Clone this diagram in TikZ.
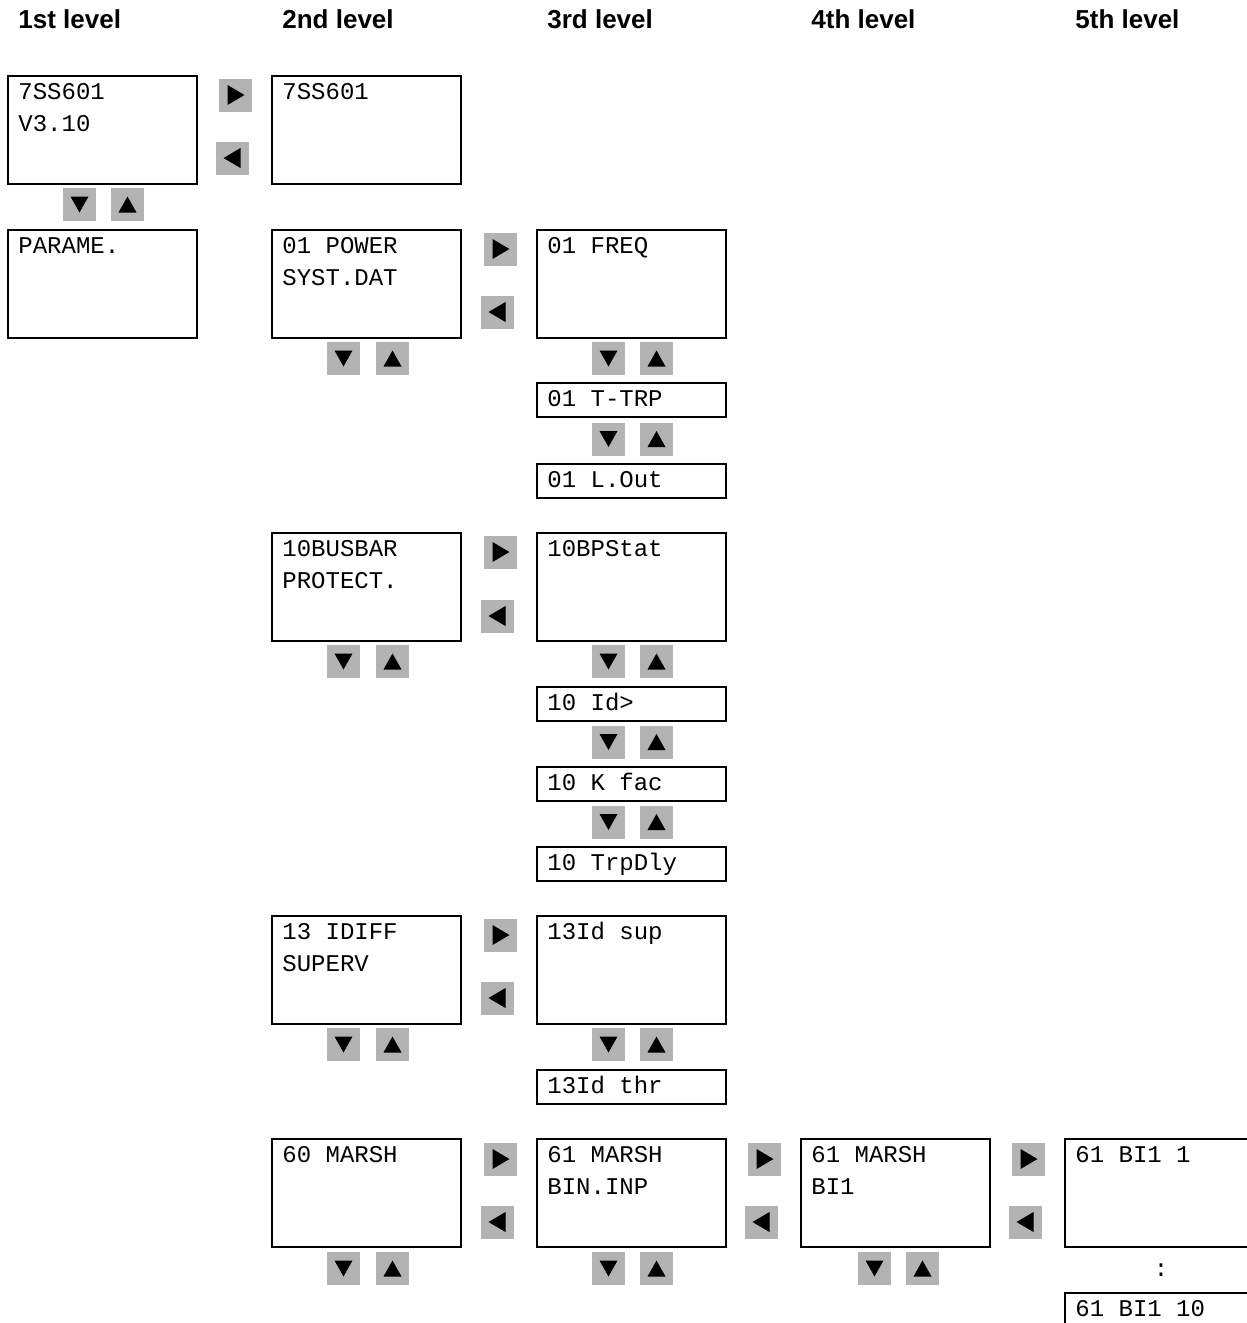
\documentclass[tikz,border=0pt]{standalone}
\usepackage{fontspec}
\setmainfont{Liberation Sans}
\newfontfamily\monof{Liberation Mono}
\definecolor{btngray}{RGB}{179,179,179}
\tikzset{
  bigbox/.style={draw, line width=1pt, minimum width=94.5pt, minimum height=54pt, inner sep=0pt, anchor=north west},
  smallbox/.style={draw, line width=1pt, minimum width=94.5pt, minimum height=17pt, inner sep=0pt, anchor=north west},
  txt/.style={inner sep=0pt, anchor=base west, font=\monof\fontsize{12pt}{14pt}\selectfont},
  head/.style={inner sep=0pt, anchor=base west, font=\bfseries\fontsize{13pt}{15pt}\selectfont},
  btn/.style={fill=btngray, minimum size=16.5pt, inner sep=0pt},
  btnR/.style={btn, path picture={\fill[black] ([shift={(-8,-10)}]path picture bounding box.center) -- ++(0,20) -- ++(17,-10) -- cycle;}},
  btnL/.style={btn, path picture={\fill[black] ([shift={(8,-10)}]path picture bounding box.center) -- ++(0,20) -- ++(-17,-10) -- cycle;}},
  btnD/.style={btn, path picture={\fill[black] ([shift={(-9,-8)}]path picture bounding box.center) -- ++(18,0) -- ++(-9,16) -- cycle;}},
  btnU/.style={btn, path picture={\fill[black] ([shift={(-9,8)}]path picture bounding box.center) -- ++(18,0) -- ++(-9,-16) -- cycle;}},
}
\begin{document}
\begin{tikzpicture}[x=0.5pt, y=-0.5pt]
\useasboundingbox (0,0) rectangle (1247,1323);
\clip (0,0) rectangle (1247,1323);
% headers
\node[head] (h1) at (18,28) {1st level};
\node[head] (h2) at (282,28) {2nd level};
\node[head] (h3) at (547,28) {3rd level};
\node[head] (h4) at (811,28) {4th level};
\node[head] (h5) at (1075,28) {5th level};
% row A
\node[bigbox] (b11) at (7,75) {};
\node[txt] (t11a) at (18,99) {7SS601};
\node[txt] (t11b) at (18,131) {V3.10};
\node[bigbox] (b12) at (271,75) {};
\node[txt] (t12a) at (282,99) {7SS601};
\node[btnR] (rA) at (235.5,95) {};
\node[btnL] (lA) at (232.5,158) {};
\node[btnD] (dA) at (79.5,204.5) {};
\node[btnU] (uA) at (127.5,204.5) {};
% row B
\node[bigbox] (b21) at (7,229) {};
\node[txt] (t21a) at (18,253) {PARAME.};
\node[bigbox] (b22) at (271,229) {};
\node[txt] (t22a) at (282,253) {01 POWER};
\node[txt] (t22b) at (282,285) {SYST.DAT};
\node[bigbox] (b23) at (536,229) {};
\node[txt] (t23a) at (547,253) {01 FREQ};
\node[btnR] (rB) at (500.5,249) {};
\node[btnL] (lB) at (497.5,312) {};
\node[btnD] (dB2) at (343.5,358.5) {};
\node[btnU] (uB2) at (392.5,358.5) {};
\node[btnD] (dB3) at (608.5,358.5) {};
\node[btnU] (uB3) at (656.5,358.5) {};
\node[smallbox] (s1) at (536,382) {};
\node[txt] (ts1) at (547,406.5) {01 T-TRP};
\node[btnD] (dB4) at (608.5,439) {};
\node[btnU] (uB4) at (656.5,439) {};
\node[smallbox] (s2) at (536,463) {};
\node[txt] (ts2) at (547,487) {01 L.Out};
% row C
\node[bigbox] (b32) at (271,532) {};
\node[txt] (t32a) at (282,556) {10BUSBAR};
\node[txt] (t32b) at (282,588) {PROTECT.};
\node[bigbox] (b33) at (536,532) {};
\node[txt] (t33a) at (547,556) {10BPStat};
\node[btnR] (rC) at (500.5,552) {};
\node[btnL] (lC) at (497.5,616) {};
\node[btnD] (dC2) at (343.5,661.5) {};
\node[btnU] (uC2) at (392.5,661.5) {};
\node[btnD] (dC3) at (608.5,661.5) {};
\node[btnU] (uC3) at (656.5,661.5) {};
\node[smallbox] (s3) at (536,686) {};
\node[txt] (ts3) at (547,710.5) {10 Id>};
\node[btnD] (dC4) at (608.5,742) {};
\node[btnU] (uC4) at (656.5,742) {};
\node[smallbox] (s4) at (536,766) {};
\node[txt] (ts4) at (547,790.5) {10 K fac};
\node[btnD] (dC5) at (608.5,822) {};
\node[btnU] (uC5) at (656.5,822) {};
\node[smallbox] (s5) at (536,846) {};
\node[txt] (ts5) at (547,870.5) {10 TrpDly};
% row D
\node[bigbox] (b42) at (271,915) {};
\node[txt] (t42a) at (282,939) {13 IDIFF};
\node[txt] (t42b) at (282,971) {SUPERV};
\node[bigbox] (b43) at (536,915) {};
\node[txt] (t43a) at (547,939) {13Id sup};
\node[btnR] (rD) at (500.5,935) {};
\node[btnL] (lD) at (497.5,998) {};
\node[btnD] (dD2) at (343.5,1044.5) {};
\node[btnU] (uD2) at (392.5,1044.5) {};
\node[btnD] (dD3) at (608.5,1044.5) {};
\node[btnU] (uD3) at (656.5,1044.5) {};
\node[smallbox] (s6) at (536,1069) {};
\node[txt] (ts6) at (547,1093.5) {13Id thr};
% row E
\node[bigbox] (b52) at (271,1138) {};
\node[txt] (t52a) at (282,1162) {60 MARSH};
\node[bigbox] (b53) at (536,1138) {};
\node[txt] (t53a) at (547,1162) {61 MARSH};
\node[txt] (t53b) at (547,1194) {BIN.INP};
\node[bigbox] (b54) at (800,1138) {};
\node[txt] (t54a) at (811,1162) {61 MARSH};
\node[txt] (t54b) at (811,1194) {BI1};
\node[bigbox] (b55) at (1064,1138) {};
\node[txt] (t55a) at (1075,1162) {61 BI1 1};
\node[btnR] (rE2) at (500.5,1159) {};
\node[btnL] (lE2) at (497.5,1222) {};
\node[btnR] (rE3) at (764.5,1159) {};
\node[btnL] (lE3) at (761.5,1222) {};
\node[btnR] (rE4) at (1028.5,1159) {};
\node[btnL] (lE4) at (1025.5,1222) {};
\node[btnD] (dE2) at (343.5,1268.5) {};
\node[btnU] (uE2) at (392.5,1268.5) {};
\node[btnD] (dE3) at (608.5,1268.5) {};
\node[btnU] (uE3) at (656.5,1268.5) {};
\node[btnD] (dE4) at (874.5,1268.5) {};
\node[btnU] (uE4) at (922.5,1268.5) {};
\node[txt, anchor=base] (dots) at (1161,1276) {:};
\node[smallbox] (s7) at (1064,1292) {};
\node[txt] (ts7) at (1075,1316) {61 BI1 10};
\end{tikzpicture}
\end{document}
